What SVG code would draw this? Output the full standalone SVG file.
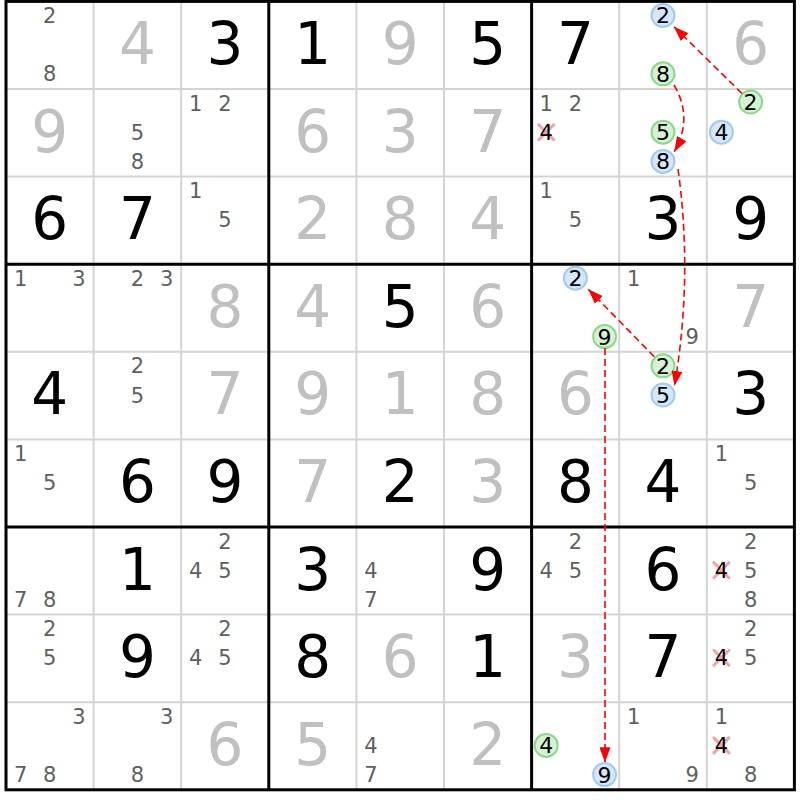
<svg xmlns="http://www.w3.org/2000/svg" width="800" height="800" viewBox="0 0 800 800">
<style>
text{font-family:"DejaVu Sans","Liberation Sans",sans-serif;text-anchor:middle}
.g{font-size:58px;fill:#c0c0c0}
.s{font-size:58px;fill:#000}
.c{font-size:21px;fill:#5f5f5f}
.k{font-size:22px;fill:#000}
.kx{font-size:21px;fill:#000}
.bl{fill:#d6e7fa;stroke:#9fcaf5;stroke-width:2}
.gr{fill:#d6f2d6;stroke:#8ad98a;stroke-width:2}
.x{stroke:#f4a0a6;stroke-width:3;stroke-linecap:round}
.thin{stroke:#d4d4d4;stroke-width:2}
.thick{stroke:#000;stroke-width:3}
.arr{fill:none;stroke:#ff0000;stroke-width:1.6;stroke-dasharray:7 4;marker-end:url(#ah)}
</style>
<defs>
<marker id="ah" markerUnits="userSpaceOnUse" markerWidth="15" markerHeight="11" refX="15" refY="5.5" orient="auto">
<path d="M0,0 L15,5.5 L0,11 z" fill="#ff0000"/>
</marker>
</defs>
<rect width="800" height="800" fill="#fff"/>
<g id="grid">
<path class="thin" d="M93.6,1.4V789.8M181.2,1.4V789.8M356.4,1.4V789.8M444,1.4V789.8M619.2,1.4V789.8M706.8,1.4V789.8M6,89H794.4M6,176.6H794.4M6,351.8H794.4M6,439.4H794.4M6,614.6H794.4M6,702.2H794.4"/>
<path class="thick" d="M268.8,1.4V789.8M531.6,1.4V789.8M6,264.2H794.4M6,527H794.4"/>
<rect x="6" y="1.4" width="788.4" height="788.4" fill="none" stroke="#000" stroke-width="3"/>
</g>
<g id="r0c0"><text class="c" x="49.8" y="23">2</text><text class="c" x="49.8" y="81.4">8</text></g>
<g id="r0c1"><text class="g" x="137.4" y="64">4</text></g>
<g id="r0c2"><text class="s" x="225" y="64">3</text></g>
<g id="r0c3"><text class="s" x="312.6" y="64">1</text></g>
<g id="r0c4"><text class="g" x="400.2" y="64">9</text></g>
<g id="r0c5"><text class="s" x="487.8" y="64">5</text></g>
<g id="r0c6"><text class="s" x="575.4" y="64">7</text></g>
<g id="r0c7"><circle class="bl" cx="663" cy="15.4" r="11.5"/><text class="k" x="663" y="23.4">2</text><circle class="gr" cx="663" cy="73.8" r="11.5"/><text class="k" x="663" y="81.8">8</text></g>
<g id="r0c8"><text class="g" x="750.6" y="64">6</text></g>

<g id="r1c0"><text class="g" x="49.8" y="151.6">9</text></g>
<g id="r1c1"><text class="c" x="137.4" y="139.8">5</text><text class="c" x="137.4" y="169">8</text></g>
<g id="r1c2"><text class="c" x="195.8" y="110.6">1</text><text class="c" x="225" y="110.6">2</text></g>
<g id="r1c3"><text class="g" x="312.6" y="151.6">6</text></g>
<g id="r1c4"><text class="g" x="400.2" y="151.6">3</text></g>
<g id="r1c5"><text class="g" x="487.8" y="151.6">7</text></g>
<g id="r1c6"><text class="c" x="546.2" y="110.6">1</text><text class="c" x="575.4" y="110.6">2</text><path class="x" d="M538.7,124.7L553.7,139.7M553.7,124.7L538.7,139.7"/><text class="kx" x="546.2" y="139.8">4</text></g>
<g id="r1c7"><circle class="gr" cx="663" cy="132.2" r="11.5"/><text class="k" x="663" y="140.2">5</text><circle class="bl" cx="663" cy="161.4" r="11.5"/><text class="k" x="663" y="169.4">8</text></g>
<g id="r1c8"><circle class="gr" cx="750.6" cy="102" r="11.5"/><text class="k" x="750.6" y="110">2</text><circle class="bl" cx="721.4" cy="132.2" r="11.5"/><text class="k" x="721.4" y="140.2">4</text></g>

<g id="r2c0"><text class="s" x="49.8" y="239.2">6</text></g>
<g id="r2c1"><text class="s" x="137.4" y="239.2">7</text></g>
<g id="r2c2"><text class="c" x="195.8" y="198.2">1</text><text class="c" x="225" y="227.4">5</text></g>
<g id="r2c3"><text class="g" x="312.6" y="239.2">2</text></g>
<g id="r2c4"><text class="g" x="400.2" y="239.2">8</text></g>
<g id="r2c5"><text class="g" x="487.8" y="239.2">4</text></g>
<g id="r2c6"><text class="c" x="546.2" y="198.2">1</text><text class="c" x="575.4" y="227.4">5</text></g>
<g id="r2c7"><text class="s" x="663" y="239.2">3</text></g>
<g id="r2c8"><text class="s" x="750.6" y="239.2">9</text></g>

<g id="r3c0"><text class="c" x="20.6" y="285.8">1</text><text class="c" x="79" y="285.8">3</text></g>
<g id="r3c1"><text class="c" x="137.4" y="285.8">2</text><text class="c" x="166.6" y="285.8">3</text></g>
<g id="r3c2"><text class="g" x="225" y="326.8">8</text></g>
<g id="r3c3"><text class="g" x="312.6" y="326.8">4</text></g>
<g id="r3c4"><text class="s" x="400.2" y="326.8">5</text></g>
<g id="r3c5"><text class="g" x="487.8" y="326.8">6</text></g>
<g id="r3c6"><circle class="bl" cx="575.4" cy="278.2" r="11.5"/><text class="k" x="575.4" y="286.2">2</text><circle class="gr" cx="604.6" cy="336.6" r="11.5"/><text class="k" x="604.6" y="344.6">9</text></g>
<g id="r3c7"><text class="c" x="633.8" y="285.8">1</text><text class="c" x="692.2" y="344.2">9</text></g>
<g id="r3c8"><text class="g" x="750.6" y="326.8">7</text></g>

<g id="r4c0"><text class="s" x="49.8" y="414.4">4</text></g>
<g id="r4c1"><text class="c" x="137.4" y="373.4">2</text><text class="c" x="137.4" y="402.6">5</text></g>
<g id="r4c2"><text class="g" x="225" y="414.4">7</text></g>
<g id="r4c3"><text class="g" x="312.6" y="414.4">9</text></g>
<g id="r4c4"><text class="g" x="400.2" y="414.4">1</text></g>
<g id="r4c5"><text class="g" x="487.8" y="414.4">8</text></g>
<g id="r4c6"><text class="g" x="575.4" y="414.4">6</text></g>
<g id="r4c7"><circle class="gr" cx="663" cy="365.8" r="11.5"/><text class="k" x="663" y="373.8">2</text><circle class="bl" cx="663" cy="395" r="11.5"/><text class="k" x="663" y="403">5</text></g>
<g id="r4c8"><text class="s" x="750.6" y="414.4">3</text></g>

<g id="r5c0"><text class="c" x="20.6" y="461">1</text><text class="c" x="49.8" y="490.2">5</text></g>
<g id="r5c1"><text class="s" x="137.4" y="502">6</text></g>
<g id="r5c2"><text class="s" x="225" y="502">9</text></g>
<g id="r5c3"><text class="g" x="312.6" y="502">7</text></g>
<g id="r5c4"><text class="s" x="400.2" y="502">2</text></g>
<g id="r5c5"><text class="g" x="487.8" y="502">3</text></g>
<g id="r5c6"><text class="s" x="575.4" y="502">8</text></g>
<g id="r5c7"><text class="s" x="663" y="502">4</text></g>
<g id="r5c8"><text class="c" x="721.4" y="461">1</text><text class="c" x="750.6" y="490.2">5</text></g>

<g id="r6c0"><text class="c" x="20.6" y="607">7</text><text class="c" x="49.8" y="607">8</text></g>
<g id="r6c1"><text class="s" x="137.4" y="589.6">1</text></g>
<g id="r6c2"><text class="c" x="225" y="548.6">2</text><text class="c" x="195.8" y="577.8">4</text><text class="c" x="225" y="577.8">5</text></g>
<g id="r6c3"><text class="s" x="312.6" y="589.6">3</text></g>
<g id="r6c4"><text class="c" x="371" y="577.8">4</text><text class="c" x="371" y="607">7</text></g>
<g id="r6c5"><text class="s" x="487.8" y="589.6">9</text></g>
<g id="r6c6"><text class="c" x="575.4" y="548.6">2</text><text class="c" x="546.2" y="577.8">4</text><text class="c" x="575.4" y="577.8">5</text></g>
<g id="r6c7"><text class="s" x="663" y="589.6">6</text></g>
<g id="r6c8"><text class="c" x="750.6" y="548.6">2</text><path class="x" d="M713.9,562.7L728.9,577.7M728.9,562.7L713.9,577.7"/><text class="kx" x="721.4" y="577.8">4</text><text class="c" x="750.6" y="577.8">5</text><text class="c" x="750.6" y="607">8</text></g>

<g id="r7c0"><text class="c" x="49.8" y="636.2">2</text><text class="c" x="49.8" y="665.4">5</text></g>
<g id="r7c1"><text class="s" x="137.4" y="677.2">9</text></g>
<g id="r7c2"><text class="c" x="225" y="636.2">2</text><text class="c" x="195.8" y="665.4">4</text><text class="c" x="225" y="665.4">5</text></g>
<g id="r7c3"><text class="s" x="312.6" y="677.2">8</text></g>
<g id="r7c4"><text class="g" x="400.2" y="677.2">6</text></g>
<g id="r7c5"><text class="s" x="487.8" y="677.2">1</text></g>
<g id="r7c6"><text class="g" x="575.4" y="677.2">3</text></g>
<g id="r7c7"><text class="s" x="663" y="677.2">7</text></g>
<g id="r7c8"><text class="c" x="750.6" y="636.2">2</text><path class="x" d="M713.9,650.3L728.9,665.3M728.9,650.3L713.9,665.3"/><text class="kx" x="721.4" y="665.4">4</text><text class="c" x="750.6" y="665.4">5</text></g>

<g id="r8c0"><text class="c" x="79" y="723.8">3</text><text class="c" x="20.6" y="782.2">7</text><text class="c" x="49.8" y="782.2">8</text></g>
<g id="r8c1"><text class="c" x="166.6" y="723.8">3</text><text class="c" x="137.4" y="782.2">8</text></g>
<g id="r8c2"><text class="g" x="225" y="764.8">6</text></g>
<g id="r8c3"><text class="g" x="312.6" y="764.8">5</text></g>
<g id="r8c4"><text class="c" x="371" y="753">4</text><text class="c" x="371" y="782.2">7</text></g>
<g id="r8c5"><text class="g" x="487.8" y="764.8">2</text></g>
<g id="r8c6"><circle class="gr" cx="546.2" cy="745.4" r="11.5"/><text class="k" x="546.2" y="753.4">4</text><circle class="bl" cx="604.6" cy="774.6" r="11.5"/><text class="k" x="604.6" y="782.6">9</text></g>
<g id="r8c7"><text class="c" x="633.8" y="723.8">1</text><text class="c" x="692.2" y="782.2">9</text></g>
<g id="r8c8"><text class="c" x="721.4" y="723.8">1</text><path class="x" d="M713.9,737.9L728.9,752.9M728.9,737.9L713.9,752.9"/><text class="kx" x="721.4" y="753">4</text><text class="c" x="750.6" y="782.2">8</text></g>

<g id="connectors">
<path class="arr" d="M742,93.5L674,26.7"/>
<path class="arr" d="M674,85Q693.5,118 674.3,151.7"/>
<path class="arr" d="M678,169Q693,276.5 674.5,386"/>
<path class="arr" d="M654.3,356.7L588.3,289.3"/>
<path class="arr" d="M605,348L605,762.3"/>
</g>
</svg>
